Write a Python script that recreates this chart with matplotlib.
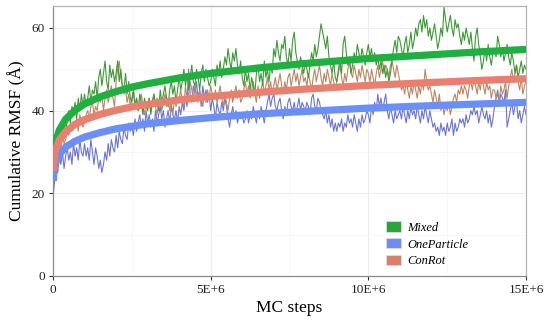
import numpy as np
import matplotlib
matplotlib.use("Agg")
import matplotlib.pyplot as plt
from matplotlib.patches import Patch
from matplotlib.ticker import MultipleLocator

plt.rcParams['font.family'] = ['Liberation Serif', 'DejaVu Serif']

# ---- data ----
STEP = 5e4  # MC steps between samples

mixed = [22, 28, 32, 30, 35, 33, 37, 35, 34, 38, 40, 37, 41, 39, 42, 38, 43, 40, 44, 41,
         44, 41, 43, 46, 42, 45, 44, 47, 43, 48, 50, 46, 49, 52, 47, 45, 51, 48, 50, 47,
         49, 52, 47, 50, 46, 45, 49, 44, 47, 43, 42, 45, 41, 43, 40, 44, 42, 39, 43, 41,
         40, 43, 39, 42, 44, 41, 43, 40, 45, 42, 44, 46, 43, 41, 45, 47, 44, 46, 42, 45,
         48, 45, 47, 50, 46, 49, 45, 48, 51, 47, 46, 50, 48, 45, 49, 51, 47, 50, 48, 46,
         47, 50, 48, 46, 51, 49, 52, 48, 50, 53, 51, 55, 52, 50, 54, 52, 55, 51, 49, 52,
         48, 46, 50, 47, 49, 45, 48, 46, 44, 49, 51, 47, 49, 46, 52, 48, 50, 47, 51, 49,
         55, 53, 57, 54, 52, 56, 55, 58, 53, 51, 55, 52, 57, 59, 54, 52, 50, 53, 51, 49,
         52, 50, 48, 51, 54, 52, 56, 53, 55, 58, 61, 59, 57, 55, 58, 53, 51, 49, 52, 48,
         47, 50, 52, 49, 56, 58, 54, 51, 53, 49, 51, 54, 52, 56, 54, 52, 55, 53, 51, 54,
         56, 53, 55, 52, 54, 51, 53, 50, 52, 49, 51, 48, 50, 47, 49, 52, 55, 57, 54, 58,
         57, 55, 53, 56, 58, 54, 56, 59, 55, 57, 60, 58, 61, 62, 59, 63, 60, 62, 58, 60,
         57, 59, 61, 58, 55, 57, 60, 58, 65, 62, 59, 61, 63, 60, 58, 62, 60, 61, 58, 56,
         59, 57, 60, 58, 56, 59, 55, 52, 58, 60, 56, 53, 50, 52, 55, 52, 56, 53, 51, 54,
         55, 53, 58, 56, 53, 55, 52, 54, 56, 53, 51, 54, 52, 49, 51, 48, 50, 52, 49, 51,
         50]

one_particle = [19, 23, 27, 25, 29, 27, 30, 26, 29, 31, 28, 30, 27, 32, 29, 31, 28, 33, 30, 29,
                32, 29, 31, 28, 33, 30, 27, 31, 29, 26, 28, 25, 27, 30, 28, 32, 29, 33, 31, 30,
                34, 31, 35, 33, 32, 36, 34, 33, 37, 35, 36, 34, 38, 35, 37, 39, 36, 38, 35, 40,
                37, 39, 36, 38, 35, 40, 37, 39, 41, 38, 40, 36, 38, 40, 37, 41, 39, 38, 40, 37,
                41, 39, 42, 40, 43, 41, 50, 44, 42, 46, 44, 47, 43, 45, 41, 46, 43, 45, 42, 44,
                40, 43, 41, 38, 42, 40, 39, 42, 40, 43, 41, 38, 36, 39, 41, 38, 40, 37, 39, 38,
                39, 37, 38, 40, 37, 39, 38, 41, 39, 37, 40, 38, 41, 39, 37, 40, 42, 44, 41, 43,
                44, 41, 40, 42, 43, 40, 38, 41, 39, 42, 43, 41, 40, 42, 39, 41, 43, 40, 42, 41,
                40, 42, 41, 39, 43, 44, 41, 40, 43, 42, 40, 39, 38, 40, 37, 39, 36, 38, 35, 37,
                35, 37, 36, 38, 35, 37, 36, 39, 37, 38, 36, 39, 37, 35, 38, 36, 39, 37, 38, 40,
                39, 37, 41, 39, 42, 40, 44, 41, 43, 40, 42, 44, 40, 38, 41, 39, 37, 40, 38, 39,
                40, 38, 41, 39, 37, 40, 38, 41, 39, 40, 38, 41, 39, 37, 40, 38, 41, 39, 37, 40,
                38, 36, 37, 35, 36, 34, 37, 35, 36, 34, 37, 35, 36, 38, 34, 37, 35, 36, 38, 37,
                38, 36, 39, 37, 38, 40, 39, 41, 39, 40, 37, 39, 41, 39, 38, 40, 37, 39, 36, 38,
                41, 43, 45, 42, 44, 43, 42, 45, 36, 38, 40, 42, 39, 41, 42, 38, 40, 37, 39, 41,
                39]

con_rot = [21, 26, 30, 28, 32, 31, 34, 32, 33, 35, 34, 36, 35, 37, 36, 38, 35, 39, 37, 36,
           37, 39, 40, 38, 41, 42, 39, 41, 40, 43, 42, 44, 40, 43, 45, 42, 44, 46, 43, 41,
           47, 50, 52, 48, 46, 44, 45, 42, 44, 41, 43, 45, 41, 43, 40, 42, 44, 41, 39, 42,
           41, 43, 40, 42, 44, 41, 39, 42, 43, 40, 42, 44, 41, 43, 40, 42, 39, 43, 41, 42,
           43, 45, 42, 41, 46, 43, 44, 47, 45, 43, 46, 44, 42, 45, 43, 41, 44, 42, 45, 43,
           46, 44, 43, 45, 42, 44, 46, 43, 41, 44, 42, 40, 43, 45, 42, 44, 46, 43, 45, 42,
           43, 45, 47, 44, 46, 43, 45, 47, 44, 42, 46, 43, 45, 47, 44, 46, 48, 45, 47, 44,
           46, 48, 45, 47, 49, 46, 44, 47, 45, 48, 49, 46, 48, 50, 47, 49, 46, 48, 50, 47,
           48, 46, 49, 47, 45, 48, 50, 47, 49, 51, 48, 46, 49, 47, 50, 48, 46, 49, 47, 45,
           47, 49, 51, 48, 46, 49, 47, 50, 52, 49, 48, 51, 49, 47, 50, 48, 51, 49, 47, 50,
           49, 47, 50, 48, 46, 49, 51, 48, 50, 52, 49, 51, 50, 48, 51, 52, 50, 48, 51, 49,
           47, 45, 46, 44, 47, 45, 43, 46, 44, 47, 45, 43, 46, 44, 47, 45, 50, 47, 45, 46,
           44, 42, 45, 43, 41, 44, 40, 42, 39, 41, 40, 42, 39, 41, 43, 44, 42, 45, 44, 46,
           44, 46, 45, 43, 46, 47, 45, 48, 46, 44, 47, 45, 48, 46, 44, 47, 45, 46, 43, 45,
           45, 43, 44, 42, 46, 44, 45, 47, 43, 46, 48, 50, 47, 49, 51, 47, 45, 48, 44, 46,
           47]

# smoothed fit curves
fit_steps = np.array([0.01, 0.02, 0.05, 0.1, 0.2, 0.4, 0.7, 1, 1.5, 2, 2.5, 3, 4, 5,
                      6.5, 8, 10, 12, 13.5, 15]) * 1e6
fit_mixed = [26.1, 28.0, 30.7, 32.9, 35.3, 37.9, 40.1, 41.6, 43.35, 44.6, 45.7, 46.5,
             47.9, 49.0, 50.3, 51.4, 52.6, 53.5, 54.2, 54.8]
fit_con_rot = [25.4, 27.0, 29.2, 31.0, 32.9, 34.9, 36.7, 37.8, 39.1, 40.1, 40.9, 41.5,
               42.6, 43.4, 44.4, 45.2, 46.1, 46.8, 47.3, 47.7]
fit_one_particle = [23.0, 24.4, 26.3, 27.8, 29.4, 31.2, 32.6, 33.6, 34.7, 35.6, 36.2,
                    36.8, 37.6, 38.3, 39.2, 39.8, 40.6, 41.2, 41.6, 42.0]

series_names = ["Mixed", "OneParticle", "ConRot"]
x_ticks = [0, 5e6, 10e6, 15e6]
x_tick_labels = ["0", "5E+6", "10E+6", "15E+6"]
y_ticks = [0, 20, 40, 60]

# ---- styles ----
noisy_colors = {"Mixed": "#3c9a34", "OneParticle": "#6b73dd", "ConRot": "#b98762"}
fit_colors = {"Mixed": "#1fb13f", "OneParticle": "#6c8ff7", "ConRot": "#e97f6f"}
key_colors = {"Mixed": "#2ca43a", "OneParticle": "#6f8cf5", "ConRot": "#d9806a"}


def xs(values):
    return np.arange(len(values)) * STEP


fig = plt.figure(figsize=(5.5, 3.25), dpi=100)
ax = fig.add_axes([0.0964, 0.1508, 0.86, 0.8307])

ax.plot(xs(one_particle), one_particle, color=noisy_colors["OneParticle"], lw=0.8, zorder=2)
ax.plot(xs(con_rot), con_rot, color=noisy_colors["ConRot"], lw=0.8, zorder=2.1)
ax.plot(xs(mixed), mixed, color=noisy_colors["Mixed"], lw=0.8, zorder=2.2)

ax.plot(fit_steps, fit_mixed, color=fit_colors["Mixed"], lw=5.2, zorder=3, solid_capstyle='butt')
ax.plot(fit_steps, fit_one_particle, color=fit_colors["OneParticle"], lw=5.2, zorder=3.1, solid_capstyle='butt')
ax.plot(fit_steps, fit_con_rot, color=fit_colors["ConRot"], lw=5.2, zorder=3.2, solid_capstyle='butt')

ax.set_xlim(0, 15e6)
ax.set_ylim(0, 65.3)
ax.set_xticks(x_ticks)
ax.set_xticklabels(x_tick_labels)
ax.set_yticks(y_ticks)
ax.xaxis.set_minor_locator(MultipleLocator(2.5e6))
ax.yaxis.set_minor_locator(MultipleLocator(10))
ax.grid(which='major', color='#ebebeb', lw=0.7, zorder=0)
ax.grid(which='minor', color='#f4f4f4', lw=0.5, zorder=0)
ax.tick_params(which='minor', length=0)
ax.tick_params(which='major', length=3, width=0.8, color='#333333', labelsize=9.5,
               labelcolor='#222222', pad=3)

for side in ['top', 'right']:
    ax.spines[side].set_color('#b5b5b5')
    ax.spines[side].set_linewidth(0.9)
for side in ['left', 'bottom']:
    ax.spines[side].set_color('#8a8a8a')
    ax.spines[side].set_linewidth(0.9)

ax.set_xlabel("MC steps", fontsize=12.5, labelpad=3)
ax.set_ylabel("Cumulative RMSF (Å)", fontsize=12.5, labelpad=4)

handles = [Patch(facecolor=key_colors[n], edgecolor='#dddddd', lw=0.6, label=n) for n in series_names]
leg = ax.legend(handles=handles, loc='lower left', bbox_to_anchor=(0.68, -0.01),
                frameon=False, prop={'style': 'italic', 'size': 9},
                handlelength=1.2, handleheight=0.9, handletextpad=0.5, labelspacing=0.35)

fig.savefig("out.png", dpi=100)
